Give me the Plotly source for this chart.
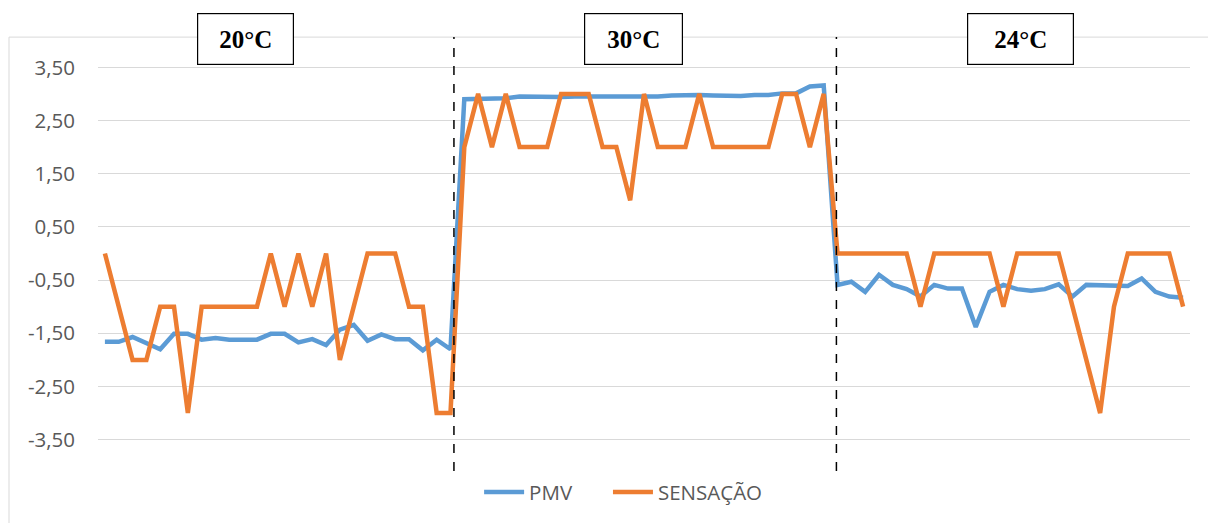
import plotly.graph_objects as go

idx = list(range(79))

pmv = [-1.66, -1.66, -1.57, -1.69, -1.80, -1.51, -1.51, -1.62, -1.59, -1.62,
       -1.62, -1.62, -1.51, -1.51, -1.67, -1.61, -1.72, -1.43, -1.34, -1.64,
       -1.52, -1.61, -1.61, -1.82, -1.62, -1.80,
       2.90, 2.90, 2.91, 2.92, 2.95, 2.94, 2.94, 2.94, 2.95, 2.95,
       2.94, 2.95, 2.95, 2.95, 2.95, 2.97, 2.98, 2.98, 2.97, 2.96,
       2.96, 2.98, 2.98, 3.01, 3.01, 3.14, 3.16,
       -0.59, -0.53, -0.72, -0.40, -0.59, -0.67, -0.81, -0.59, -0.66, -0.66,
       -1.38, -0.72, -0.59, -0.67, -0.70, -0.67, -0.58, -0.81, -0.59, -0.59,
       -0.59, -0.61, -0.47, -0.72, -0.81, -0.83]

sensacao = [0, -1, -2, -2, -1, -1, -3, -1, -1, -1, -1, -1, 0, -1, 0, -1, 0, -2, -1, 0,
            0, 0, -1, -1, -3, -3,
            2, 3, 2, 3, 2, 2, 2, 3, 3, 3, 2, 2, 1, 3, 2, 2, 2, 3, 2, 2, 2, 2, 2, 3, 3, 2, 3,
            0, 0, 0, 0, 0, 0, -1, 0, 0, 0, 0, 0, -1, 0, 0, 0, 0, -1, -2, -3, -1, 0, 0, 0, 0, -1]

tick_vals = [3.5, 2.5, 1.5, 0.5, -0.5, -1.5, -2.5, -3.5]
tick_text = ["3,50", "2,50", "1,50", "0,50", "-0,50", "-1,50", "-2,50", "-3,50"]

dividers = [25.25, 52.92]
labels = ["20°C", "30°C", "24°C"]
label_x = [10.2, 38.24, 66.25]
label_w = [95, 97, 105]

fig = go.Figure()
fig.add_trace(go.Scatter(x=idx, y=pmv, mode="lines", name="PMV", legend="legend",
                         line=dict(color="#5B9BD5", width=4.5)))
fig.add_trace(go.Scatter(x=idx, y=sensacao, mode="lines", name="SENSAÇÃO", legend="legend2",
                         line=dict(color="#ED7D31", width=4.5)))

shapes = []
# chart area border
shapes.append(dict(type="rect", xref="paper", yref="paper",
                   x0=-0.0815, x1=1.2, y0=-1.0, y1=1.065,
                   line=dict(color="#D9D9D9", width=1), layer="below"))
for d in dividers:
    shapes.append(dict(type="line", xref="x", yref="paper", x0=d, x1=d,
                       y0=-0.068, y1=1.065,
                       line=dict(color="black", width=1.5, dash="dash")))

annotations = []
for t, xc, w in zip(labels, label_x, label_w):
    annotations.append(dict(x=xc, y=1.061, xref="x", yref="paper",
                            text="<b>%s</b>" % t, showarrow=False,
                            xanchor="center", yanchor="middle",
                            width=w, height=50, borderpad=0,
                            bordercolor="black", borderwidth=1.2,
                            bgcolor="white",
                            font=dict(family="Liberation Serif", size=25, color="black")))

legend_font = dict(family="Open Sans", size=20.5, color="#595959")

fig.update_layout(
    width=1208, height=523,
    margin=dict(l=98, r=18, t=62, b=77),
    plot_bgcolor="white", paper_bgcolor="white",
    shapes=shapes, annotations=annotations,
    showlegend=True,
    legend=dict(orientation="h", x=0.349, xanchor="left", y=-0.12, yanchor="middle",
                font=legend_font, itemwidth=40),
    legend2=dict(orientation="h", x=0.467, xanchor="left", y=-0.12, yanchor="middle",
                 font=legend_font, itemwidth=40),
    xaxis=dict(range=[-0.5, 78.5], showgrid=False, showticklabels=False,
               zeroline=False, showline=False, ticks=""),
    yaxis=dict(range=[-3.6, 3.6], tickvals=tick_vals, ticktext=tick_text,
               showgrid=True, gridcolor="#D9D9D9", gridwidth=1.3,
               zeroline=False, showline=False, ticks="",
               ticklabelstandoff=22,
               tickfont=dict(family="Open Sans", size=20.5, color="#595959")),
)

fig.write_html("out.html")
